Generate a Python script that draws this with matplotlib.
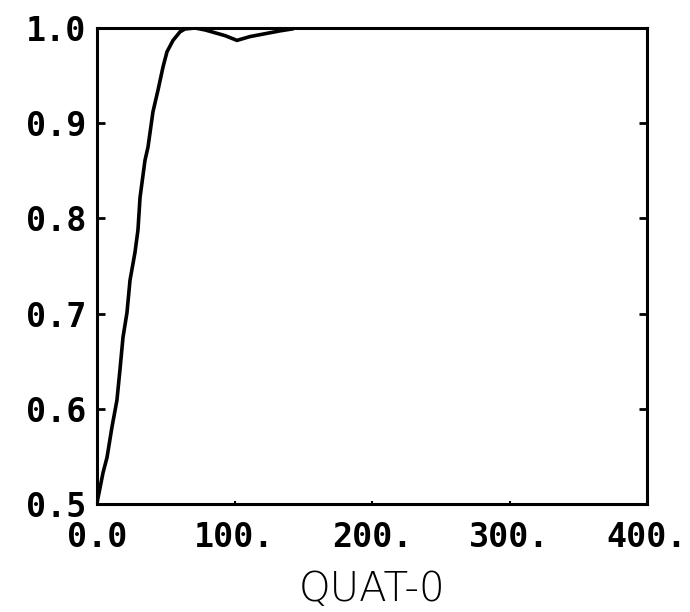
import matplotlib
matplotlib.use("Agg")
import matplotlib.pyplot as plt

# Data
x_vals = [0, 4.4, 7.3, 10.9, 14.5, 16.7, 18.9, 21.8, 24.0, 27.6, 29.8, 31.3, 34.9,
          37.1, 40.7, 44.4, 48.0, 50.9, 55.3, 60.4, 64.0, 71.3, 78.5, 85.8, 93.1,
          101.8, 111.3, 122.2, 133.1, 141.8]
y_vals = [0.501, 0.533, 0.549, 0.581, 0.609, 0.641, 0.675, 0.701, 0.735, 0.764,
          0.788, 0.822, 0.861, 0.875, 0.912, 0.935, 0.959, 0.975, 0.987, 0.996,
          0.999, 1.0, 0.998, 0.995, 0.992, 0.987, 0.991, 0.994, 0.997, 0.999]

x_ticks = [0, 100, 200, 300, 400]
x_tick_labels = ["0.0", "100.", "200.", "300.", "400."]
y_ticks = [0.5, 0.6, 0.7, 0.8, 0.9, 1.0]
y_tick_labels = ["0.5", "0.6", "0.7", "0.8", "0.9", "1.0"]
x_label = "QUAT-0"

fig = plt.figure(figsize=(6.9, 6.12), dpi=100)
ax = fig.add_axes([97/690, 1 - 504/612, 550/690, 476/612])

ax.plot(x_vals, y_vals, color="black", linewidth=2.6, solid_joinstyle="miter")

ax.set_xlim(0, 400)
ax.set_ylim(0.5, 1.0)
ax.set_xticks(x_ticks)
ax.set_xticklabels(x_tick_labels)
ax.set_yticks(y_ticks)
ax.set_yticklabels(y_tick_labels)

for lab in ax.get_xticklabels() + ax.get_yticklabels():
    lab.set_fontfamily("DejaVu Sans Mono")
    lab.set_fontweight("bold")
    lab.set_fontsize(24)

ax.tick_params(axis="y", direction="in", length=6, width=2, pad=8,
               left=True, right=True)
ax.tick_params(axis="x", direction="in", length=2.5, width=1.5, pad=12)

for sp in ax.spines.values():
    sp.set_linewidth(2.2)

ax.set_xlabel(x_label, fontsize=29, family="DejaVu Sans", fontweight="light",
              labelpad=12)

fig.savefig("out.png", dpi=100)
